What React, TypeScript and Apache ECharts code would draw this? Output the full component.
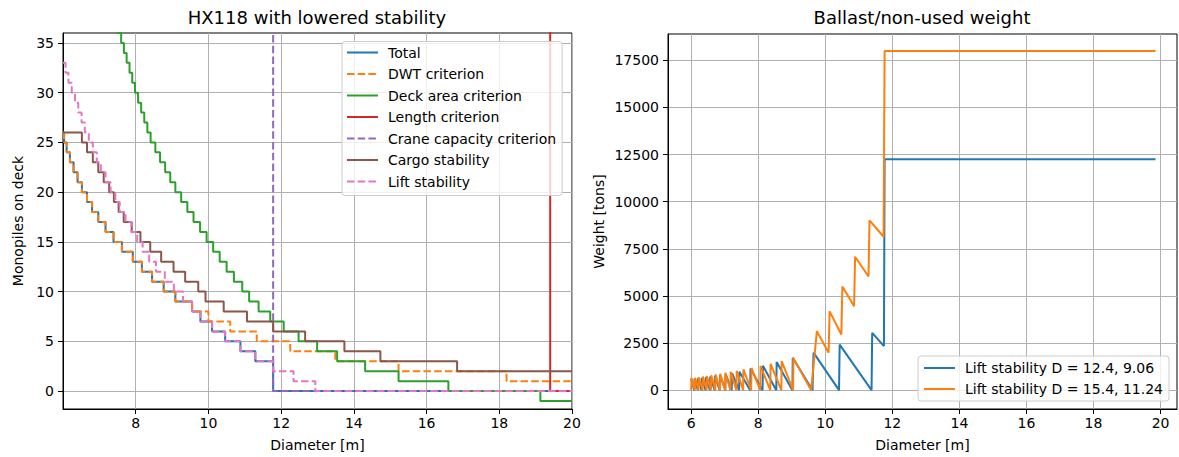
import React, { useEffect, useRef } from 'react';
import * as echarts from 'echarts';

type Pt = [number, number];

// Left panel: monopiles on deck per criterion, step values [diameter, count] (value holds until next point)
const totalSteps: Pt[] = [
  [6.0, 26], [6.03, 25], [6.1, 24], [6.19, 23], [6.29, 22], [6.4, 21], [6.52, 20], [6.66, 19],
  [6.8, 18], [6.97, 17], [7.17, 16], [7.39, 15], [7.62, 14], [7.92, 13], [8.17, 12], [8.45, 11],
  [8.77, 10], [9.09, 9], [9.55, 8], [9.78, 7], [10.1, 6], [10.46, 5], [10.88, 4], [11.29, 3],
  [11.78, 0], [20.0, 0],
];

const dwtSteps: Pt[] = [
  [6.0, 26], [6.03, 25], [6.1, 24], [6.19, 23], [6.29, 22], [6.4, 21], [6.52, 20], [6.66, 19],
  [6.8, 18], [6.97, 17], [7.17, 16], [7.39, 15], [7.62, 14], [7.92, 13], [8.17, 12], [8.45, 11],
  [8.77, 10], [9.09, 9], [9.55, 8], [10.0, 7], [10.6, 6], [11.33, 5], [12.25, 4], [13.49, 3],
  [15.23, 2], [18.2, 1], [20.0, 1],
];

const deckSteps: Pt[] = [
  [7.3, 38], [7.4, 37], [7.5, 36], [7.6, 35], [7.675, 34], [7.75, 33], [7.83, 32], [7.905, 31],
  [7.98, 30], [8.065, 29], [8.15, 28], [8.235, 27], [8.32, 26], [8.41, 25], [8.54, 24], [8.67, 23],
  [8.81, 22], [8.95, 21], [9.09, 20], [9.25, 19], [9.42, 18], [9.59, 17], [9.77, 16], [9.95, 15],
  [10.13, 14], [10.31, 13], [10.5, 12], [10.7, 11], [10.93, 10], [11.12, 9], [11.38, 8], [11.7, 7],
  [12.07, 6], [12.48, 5], [12.99, 4], [13.54, 3], [14.31, 2], [15.23, 1], [16.6, 0], [19.13, -1],
  [20.0, -1],
];

const lengthSteps: Pt[] = [[6.0, 1000], [19.4, 0], [20.0, 0]];

const craneSteps: Pt[] = [[6.0, 1000], [11.78, 0], [20.0, 0]];

const cargoSteps: Pt[] = [
  [6.0, 26], [6.52, 25], [6.66, 24], [6.82, 23], [6.97, 22], [7.12, 21], [7.27, 20], [7.4, 19],
  [7.53, 18], [7.67, 17], [7.89, 16], [8.13, 15], [8.4, 14], [8.7, 13], [9.04, 12], [9.36, 11],
  [9.72, 10], [9.92, 9], [10.42, 8], [11.06, 7], [11.78, 6], [12.66, 5], [13.74, 4], [14.73, 3],
  [16.84, 2], [20.0, 2],
];

const liftSteps: Pt[] = [
  [6.0, 33], [6.07, 32], [6.15, 31], [6.24, 30], [6.33, 29], [6.42, 28], [6.51, 27], [6.6, 26],
  [6.71, 25], [6.82, 24], [6.93, 23], [7.04, 22], [7.17, 21], [7.31, 20], [7.44, 19], [7.56, 18],
  [7.72, 17], [7.88, 16], [8.04, 15], [8.19, 14], [8.37, 13], [8.56, 12], [8.8, 11], [9.05, 10],
  [9.3, 9], [9.55, 8], [9.78, 7], [10.1, 6], [10.46, 5], [10.88, 4], [11.29, 3], [11.78, 2],
  [12.34, 1], [12.94, 0], [20.0, 0],
];

// Right panel: ballast / non-used weight [diameter, tons]
const ballastLow: Pt[] = [
  [6.0, 590], [6.09, 0], [6.1, 610], [6.2, 0], [6.21, 640], [6.31, 0], [6.32, 660], [6.43, 0],
  [6.44, 690], [6.56, 0], [6.57, 720], [6.7, 0], [6.71, 760], [6.85, 0], [6.86, 800], [7.02, 0],
  [7.03, 850], [7.21, 0], [7.22, 910], [7.43, 0], [7.44, 980], [7.76, 0], [7.77, 1150], [8.13, 0],
  [8.14, 1300], [8.54, 0], [8.55, 1500], [9.02, 0], [9.03, 1720], [9.62, 0], [9.65, 1990],
  [10.41, 0], [10.43, 2420], [11.38, 0], [11.4, 3040], [11.75, 2340], [11.77, 12250], [19.85, 12250],
];

const ballastHigh: Pt[] = [
  [6.0, 0], [6.01, 640], [6.11, 0], [6.12, 660], [6.22, 0], [6.23, 690], [6.34, 0], [6.35, 720],
  [6.46, 0], [6.47, 750], [6.59, 0], [6.6, 790], [6.72, 0], [6.73, 830], [6.86, 0], [6.87, 870],
  [7.01, 0], [7.02, 920], [7.17, 0], [7.18, 970], [7.35, 0], [7.36, 1030], [7.55, 0], [7.56, 1100],
  [7.79, 0], [7.8, 1180], [8.06, 0], [8.07, 1280], [8.36, 0], [8.37, 1400], [8.69, 0], [8.7, 1540],
  [9.04, 0], [9.05, 1700], [9.58, 0], [9.75, 3130], [10.1, 1990], [10.13, 4180], [10.48, 2950],
  [10.51, 5500], [10.86, 4450], [10.89, 7080], [11.29, 6030], [11.32, 9010], [11.74, 8140],
  [11.77, 18000], [19.85, 18000],
];

// Tick positions
const leftXTicks = [8, 10, 12, 14, 16, 18, 20];
const leftYTicks = [0, 5, 10, 15, 20, 25, 30, 35];
const rightXTicks = [6, 8, 10, 12, 14, 16, 18, 20];
const rightYTicks = [0, 2500, 5000, 7500, 10000, 12500, 15000, 17500];

const FONT = 'DejaVu Sans';
const DASH = [7.5, 3.2];
const C = {
  blue: '#1f77b4',
  orange: '#ff7f0e',
  green: '#2ca02c',
  red: '#d62728',
  purple: '#9467bd',
  brown: '#8c564b',
  pink: '#e377c2',
};

const textBase = { color: '#000', fontFamily: FONT, fontSize: 14 };

function valueAxis(
  gridIndex: number,
  min: number,
  max: number,
  step: number,
  ticks: number[],
  name: string,
  nameGap: number,
  labelMargin: number,
) {
  return {
    type: 'value',
    gridIndex,
    min,
    max,
    minInterval: step,
    maxInterval: step,
    name,
    nameLocation: 'middle',
    nameGap,
    nameTextStyle: textBase,
    axisLine: { show: true, onZero: false, lineStyle: { color: '#000', width: 1 } },
    axisTick: { show: true, length: 5, customValues: ticks, lineStyle: { color: '#000', width: 1 } },
    axisLabel: {
      show: true,
      customValues: ticks,
      margin: labelMargin,
      showMinLabel: true,
      showMaxLabel: true,
      hideOverlap: false,
      formatter: (v: number) => String(v),
      ...textBase,
    },
    splitLine: { show: true, lineStyle: { color: '#b0b0b0', width: 1 } },
  };
}

function stepSeries(name: string, data: Pt[], color: string, dashed: boolean) {
  return {
    name,
    type: 'line',
    xAxisIndex: 0,
    yAxisIndex: 0,
    data,
    step: 'end',
    symbol: 'none',
    showSymbol: false,
    clip: true,
    silent: true,
    lineStyle: { color, width: 2, type: dashed ? DASH : 'solid' },
    itemStyle: { color },
  };
}

function plainSeries(name: string, data: Pt[], color: string) {
  return {
    name,
    type: 'line',
    xAxisIndex: 1,
    yAxisIndex: 1,
    data,
    symbol: 'none',
    showSymbol: false,
    clip: true,
    silent: true,
    lineStyle: { color, width: 2 },
    itemStyle: { color },
  };
}

const leftNames = [
  'Total',
  'DWT criterion',
  'Deck area criterion',
  'Length criterion',
  'Crane capacity criterion',
  'Cargo stability',
  'Lift stability',
];
const rightNames = ['Lift stability D = 12.4, 9.06', 'Lift stability D = 15.4, 11.24'];

const legendBase = {
  orient: 'vertical',
  selectedMode: false,
  itemWidth: 31,
  itemHeight: 14,
  itemStyle: { opacity: 0 },
  backgroundColor: 'rgba(255,255,255,0.8)',
  borderColor: '#cccccc',
  borderWidth: 1,
  borderRadius: 3,
  textStyle: { ...textBase, padding: [0, 0, 0, 5] },
};

const option = {
  animation: false,
  backgroundColor: '#ffffff',
  title: [
    {
      text: 'HX118 with lowered stability',
      left: 317,
      top: 8,
      padding: 0,
      textAlign: 'center',
      textStyle: { ...textBase, fontSize: 18, fontWeight: 'normal' },
    },
    {
      text: 'Ballast/non-used weight',
      left: 922,
      top: 8,
      padding: 0,
      textAlign: 'center',
      textStyle: { ...textBase, fontSize: 18, fontWeight: 'normal' },
    },
  ],
  grid: [
    { left: 63, top: 33, width: 509, height: 378, show: true, borderColor: '#000', borderWidth: 1, backgroundColor: 'transparent' },
    { left: 668, top: 34, width: 509, height: 378, show: true, borderColor: '#000', borderWidth: 1, backgroundColor: 'transparent' },
  ],
  xAxis: [
    valueAxis(0, 6, 20, 2, leftXTicks, 'Diameter [m]', 29, 7),
    valueAxis(1, 5.31, 20.49, 2, rightXTicks, 'Diameter [m]', 29, 7),
  ],
  yAxis: [
    valueAxis(0, -1.8, 36, 5, leftYTicks, 'Monopiles on deck', 38, 9),
    valueAxis(1, -1000, 18900, 2500, rightYTicks, 'Weight [tons]', 62, 9),
  ],
  legend: [
    { ...legendBase, data: leftNames, left: 342, top: 41.5, itemGap: 7.5, padding: [4, 6, 7, 4] },
    { ...legendBase, data: rightNames, left: 918, top: 356, itemGap: 7, padding: [5, 6, 5, 5] },
  ],
  series: [
    stepSeries(leftNames[0], totalSteps, C.blue, false),
    stepSeries(leftNames[1], dwtSteps, C.orange, true),
    stepSeries(leftNames[2], deckSteps, C.green, false),
    stepSeries(leftNames[3], lengthSteps, C.red, false),
    stepSeries(leftNames[4], craneSteps, C.purple, true),
    stepSeries(leftNames[5], cargoSteps, C.brown, false),
    stepSeries(leftNames[6], liftSteps, C.pink, true),
    plainSeries(rightNames[0], ballastLow, C.blue),
    plainSeries(rightNames[1], ballastHigh, C.orange),
  ],
};

export default function App() {
  const ref = useRef<HTMLDivElement>(null);
  useEffect(() => {
    if (!ref.current) return;
    const chart = echarts.init(ref.current, null, { renderer: 'svg', width: 1179, height: 457 });
    chart.setOption(option as any);
    return () => chart.dispose();
  }, []);
  return (
    <div
      ref={ref}
      style={{ position: 'fixed', left: 0, top: 0, width: 1179, height: 457, background: '#fff' }}
    />
  );
}
